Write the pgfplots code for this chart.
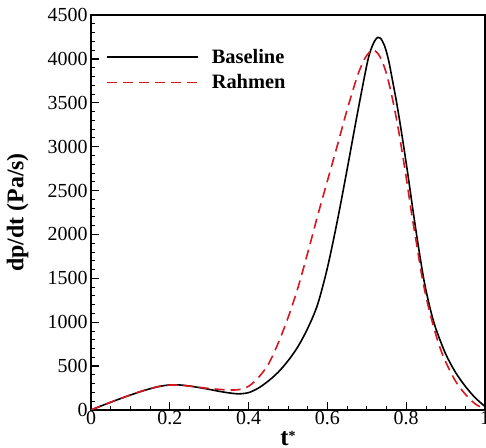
\documentclass[border=0pt]{standalone}
\usepackage{fontspec}
\setmainfont{Liberation Serif}
\usepackage{pgfplots}
\pgfplotsset{compat=1.18}

\definecolor{rahmenred}{RGB}{214,22,32}

\begin{document}
\begin{tikzpicture}
\begin{axis}[
    name=ax,
    scale only axis,
    width=394bp, height=395bp,
    xmin=0, xmax=1,
    ymin=0, ymax=4500,
    xtick={0,0.2,...,1},
    ytick={0,500,...,4500},
    minor x tick num=3,
    minor y tick num=4,
    tick pos=left,
    tick align=inside,
    major tick length=8bp,
    minor tick length=4bp,
    axis line style={line width=1.8bp},
    every tick/.style={black, line width=1.3bp},
    every minor tick/.style={black, line width=0.8bp},
    /pgf/number format/assume math mode=true,
    ticklabel style={font=\fontsize{20}{24}\selectfont},
    xticklabel style={yshift=2bp},
    scaled y ticks=false,
    yticklabel style={/pgf/number format/1000 sep={}},
    xlabel={\textbf{t}\raisebox{0.45ex}{\fontsize{14}{16}\selectfont *}},
    xlabel style={font=\fontsize{25}{28}\selectfont\bfseries, at={(axis description cs:0.5,0)}, anchor=base, yshift=-36bp},
    ylabel={dp/dt (Pa/s)},
    ylabel style={font=\fontsize{24}{28}\selectfont\bfseries, at={(axis description cs:-0.186,0.5)}, anchor=center},
    legend style={draw=none, fill=none, at={(0,1)}, anchor=north west,
        xshift=12bp, yshift=-30bp,
        font=\fontsize{20.5}{24}\selectfont\bfseries,
        row sep=6bp,
        /tikz/every odd column/.append style={column sep=11bp}},
    legend cell align=left,
    legend image code/.code={\draw[#1] (0bp,0bp) -- (91bp,0bp);},
]
% Baseline
\addplot[black, line width=1.6bp, smooth] coordinates {
    (0,0) (0.025,45) (0.05,88) (0.075,130) (0.1,170) (0.125,208)
    (0.15,242) (0.175,270) (0.2,285) (0.225,285) (0.25,273) (0.275,255)
    (0.3,235) (0.325,213) (0.35,195) (0.375,184) (0.4,198) (0.425,250)
    (0.45,330) (0.475,430) (0.5,560) (0.525,720) (0.55,930) (0.575,1200)
    (0.6,1620) (0.625,2150) (0.65,2740) (0.675,3350) (0.7,3930) (0.71,4100)
    (0.72,4205) (0.728,4245) (0.735,4235) (0.745,4150) (0.755,3990)
    (0.765,3760) (0.775,3520) (0.785,3250) (0.795,2962) (0.805,2660)
    (0.818,2250) (0.83,1890) (0.845,1480) (0.86,1170) (0.875,930)
    (0.9,640) (0.925,430) (0.95,270) (0.975,140) (1.0,40)
};
\addlegendentry{Baseline}
% Rahmen
\addplot[rahmenred, line width=1.6bp, dash pattern=on 10bp off 6bp, smooth] coordinates {
    (0,0) (0.025,45) (0.05,89) (0.075,131) (0.1,172) (0.125,210)
    (0.15,243) (0.175,270) (0.2,284) (0.225,283) (0.25,272) (0.275,258)
    (0.3,245) (0.325,235) (0.35,228) (0.375,232) (0.4,270) (0.425,370)
    (0.45,520) (0.475,760) (0.5,1050) (0.525,1390) (0.55,1790) (0.575,2210)
    (0.6,2610) (0.625,3010) (0.65,3420) (0.675,3790) (0.69,3960) (0.7,4040)
    (0.712,4100) (0.72,4095) (0.73,4050) (0.74,3960) (0.75,3830) (0.76,3650)
    (0.77,3440) (0.78,3200) (0.79,2930) (0.8,2650) (0.814,2230) (0.825,1930)
    (0.84,1520) (0.855,1200) (0.87,940) (0.885,720) (0.9,550) (0.925,330)
    (0.95,180) (0.975,70) (1.0,10)
};
\addlegendentry{Rahmen}
\end{axis}
\draw[line width=1.8bp] (ax.south east) -- (ax.north east);
\pgfresetboundingbox
\path ([xshift=-91bp,yshift=-38bp]ax.south west) rectangle ([xshift=1bp,yshift=15bp]ax.north east);
\end{tikzpicture}
\end{document}
